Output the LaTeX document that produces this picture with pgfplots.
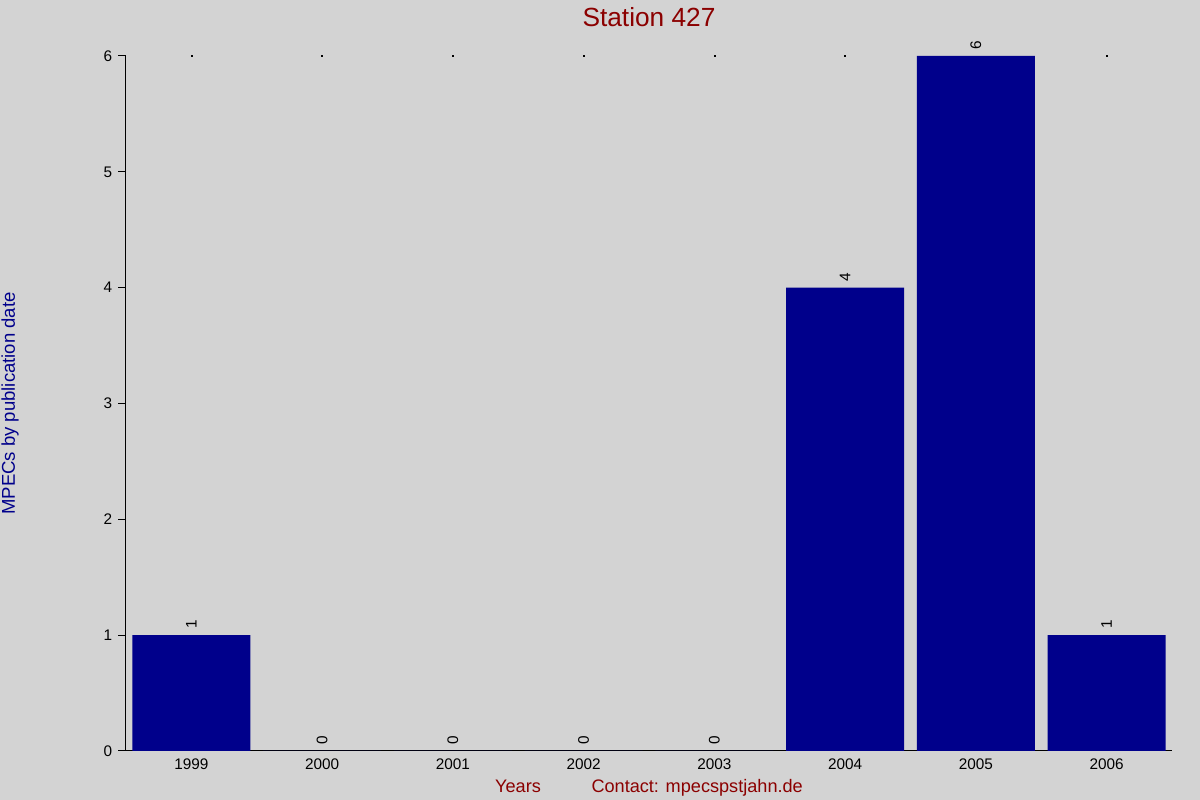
\documentclass[border=0pt]{standalone}
\usepackage{pgfplots}
\pgfplotsset{compat=1.18}
\usepackage{fontspec}
\setmainfont{Liberation Sans}
\definecolor{bg}{HTML}{D3D3D3}
\definecolor{barblue}{HTML}{00008B}
\definecolor{darkred}{HTML}{8B0000}
\begin{document}
\begin{tikzpicture}
% 1px = 0.75pt, picture 1200x800 px
\fill[bg] (0pt,0pt) rectangle (900pt,600pt);
\useasboundingbox (0pt,0pt) rectangle (900pt,600pt);
\begin{axis}[
    at={(94.5pt,36.75pt)}, anchor=south west,
    scale only axis,
    width=784.5pt, height=521.25pt,
    xmin=1998.5, xmax=2006.5,
    ymin=0, ymax=6,
    clip=false,
    axis x line*=bottom, axis y line*=left,
    axis line style={-, black, line width=0.75pt},
    xtick={1999,2000,2001,2002,2003,2004,2005,2006},
    xticklabels={1999,2000,2001,2002,2003,2004,2005,2006},
    ytick={0,1,2,3,4,5,6},
    x tick style={draw=none},
    y tick style={black, line width=0.75pt},
    tick align=outside,
    major tick length=6pt,
    /pgf/number format/assume math mode=true,
    /pgf/number format/1000 sep={},
    ticklabel style={font=\fontsize{11.5}{13}\selectfont},
    xticklabel style={yshift=3.5pt},
    yticklabel style={xshift=-1pt},
    title={Station 427},
    title style={at={(axis description cs:0.5,1.045)}, anchor=center,
        font=\fontsize{19.7}{22}\selectfont, text=darkred},
    xlabel={Years\hspace*{38pt}Contact: mpecspstjahn.de},
    xlabel style={at={(axis description cs:0.5,-0.053)}, anchor=center,
        font=\fontsize{13.6}{15}\selectfont, text=darkred},
    ylabel={MPECs by publication date},
    ylabel style={at={(axis description cs:-0.1109,0.5)}, anchor=center,
        font=\fontsize{13.9}{15}\selectfont, text=barblue},
]
\addplot[only marks, mark=square*, mark size=0.3pt, black] coordinates {
    (1999,6) (2000,6) (2001,6) (2002,6) (2003,6) (2004,6) (2006,6)
};
\addplot[ybar, fill=barblue, draw=none, bar width=0.903,
    nodes near coords,
    nodes near coords style={rotate=90, anchor=west, inner sep=4.5pt,
        font=\fontsize{11.5}{13}\selectfont, text=black}]
    coordinates {
    (1999,1) (2000,0) (2001,0) (2002,0) (2003,0) (2004,4) (2005,6) (2006,1)
};
\end{axis}
\end{tikzpicture}
\end{document}
